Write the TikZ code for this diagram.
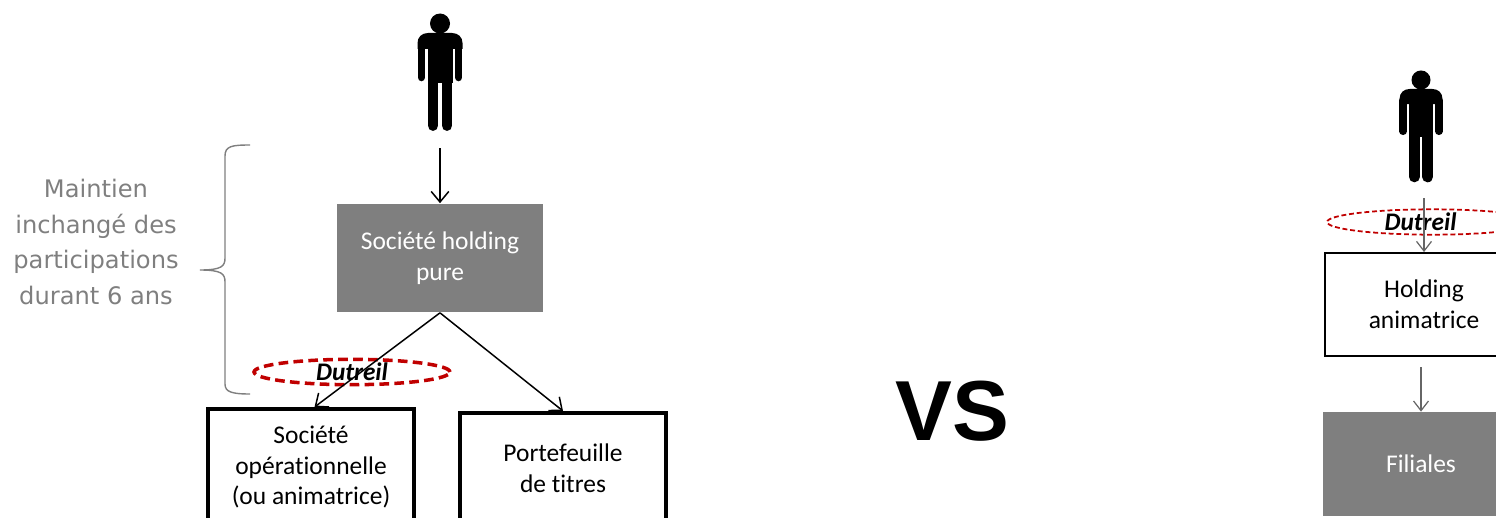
\documentclass[tikz,border=0pt]{standalone}
\usepackage{fontspec}
\setmainfont[Ligatures=NoCommon]{Carlito}
\newfontfamily\notefont{DejaVu Sans}
\newfontfamily\vsfont{Liberation Sans}
\usetikzlibrary{arrows.meta,shapes.geometric}
\definecolor{boxgrey}{HTML}{7F7F7F}
\definecolor{dutreilred}{HTML}{C00000}
\begin{document}
\begin{tikzpicture}[
    x=0.02cm, y=-0.02cm,
    framebox/.style={draw=black, align=center, minimum width=4.12cm,
                     minimum height=2.2cm, font=\fontsize{14.5}{17.5}\selectfont},
    greybox/.style={fill=boxgrey, text=white, align=center, minimum width=4.12cm,
                    minimum height=2.18cm, font=\fontsize{14.5}{17.5}\selectfont},
    dutreil/.style={ellipse, draw=dutreilred, minimum height=0.46cm,
                    inner sep=0pt, font=\fontsize{14.4}{16}\selectfont\bfseries\itshape},
    arr/.style={-{Straight Barb[length=6pt, width=10pt]}, line width=0.85pt},
    thinarr/.style={-{Straight Barb[length=5.5pt, width=8.5pt]}, line width=0.7pt, draw=black!60},
    pics/person/.style={code={
      \fill (0,10.5) circle (10);
      \fill (-22.5,36) -- (-22.5,30) .. controls (-22.5,24) and (-18,20) .. (-12,20)
        -- (12,20) .. controls (18,20) and (22.5,24) .. (22.5,30) -- (22.5,36) -- cycle;
      \fill (-12.5,25) rectangle (12.5,70);
      \draw[line width=4.3pt, line cap=round] (-18.7,32) -- (-18.7,64.5);
      \draw[line width=4.3pt, line cap=round] (18.7,32) -- (18.7,64.5);
      \draw[line width=6.2pt, line cap=round] (-7,60) -- (-7,112.5);
      \draw[line width=6.2pt, line cap=round] (7,60) -- (7,112.5);
    }}
  ]
    \path[use as bounding box, clip] (0,0) rectangle (1496,517);

    % left side
    \pic at (440,13) {person};
    \coordinate (ownerl) at (440,148);
    \node[greybox] (holdingpure) at (440,258) {Société holding\\pure};
    \node[framebox, line width=2.3pt, minimum height=2.32cm] (operating) at (311,467) {Société\\opérationnelle\\(ou animatrice)};
    \node[framebox, line width=2.3pt] (portfolio) at (563,468) {Portefeuille\\de titres};
    \node[dutreil, line width=2pt, dash pattern=on 5.5pt off 3pt, minimum width=3.92cm] (dutreill) at (352,372) {Dutreil};
    \node[text=boxgrey, align=center, font=\notefont\fontsize{13.75}{20.4}\selectfont] (note) at (96,242)
      {Maintien\\inchangé des\\participations\\durant 6 ans};
    \draw[boxgrey, line width=0.8pt] (250,145) .. controls (232,145) and (225,146) .. (225,156)
      -- (225,258) .. controls (225,266) and (222,270) .. (200,270)
      .. controls (222,270) and (225,274) .. (225,282)
      -- (225,384) .. controls (225,392) and (232,394) .. (250,394);

    \draw[arr] (ownerl) -- (holdingpure.north);
    \draw[arr] (holdingpure.south) -- ([xshift=2pt]operating.north);
    \draw[arr] (holdingpure.south) -- (portfolio.north);

    % middle
    \node[font=\vsfont\bfseries\fontsize{48.5}{50}\selectfont] (versus) at (952,411) {VS};

    % right side
    \pic[scale=0.95] at (1421,70) {person};
    \coordinate (ownerr) at (1424,198);
    \coordinate (holdingout) at (1421,367);
    \node[framebox, line width=1.1pt, minimum width=3.96cm, minimum height=2.06cm] (holdinganim) at (1424,304.5) {Holding\\animatrice};
    \node[greybox, minimum width=3.92cm, minimum height=2.08cm] (filiales) at (1421,464) {Filiales};
    \node[dutreil, line width=1pt, dash pattern=on 2.8pt off 1.6pt, minimum width=4.2cm] (dutreilr) at (1432,222) {\hspace*{-13pt}Dutreil};

    \draw[thinarr] (ownerr) -- (holdinganim.north);
    \draw[thinarr] (holdingout) -- (filiales.north);
  \end{tikzpicture}
\end{document}
